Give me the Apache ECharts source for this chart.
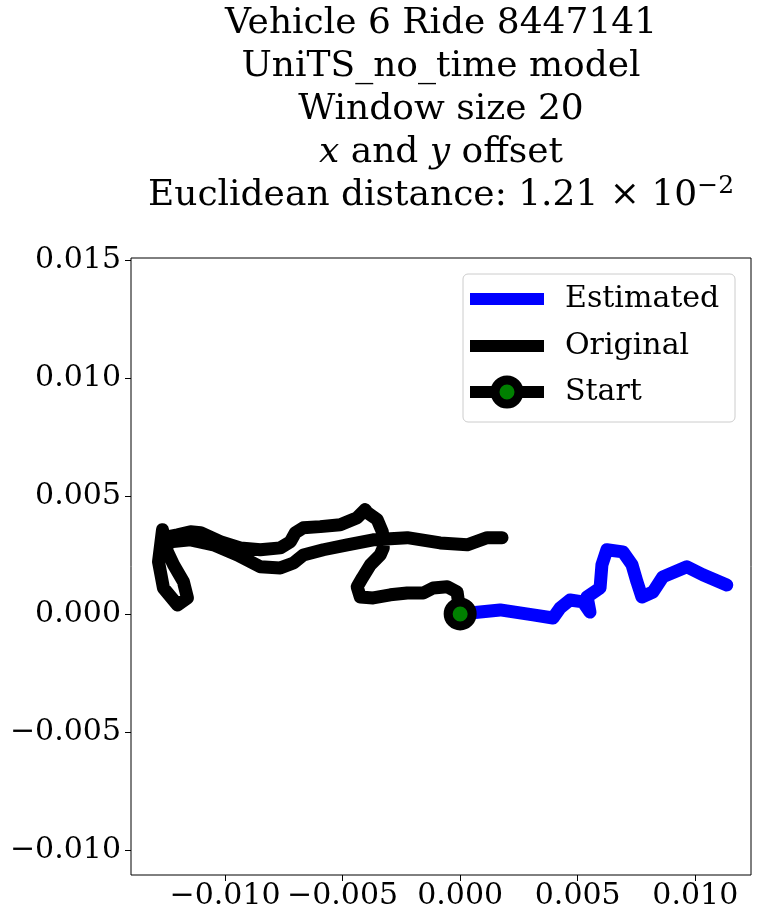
<!DOCTYPE html>
<html>
<head>
<meta charset="utf-8">
<script src="https://cdn.jsdelivr.net/npm/echarts@6/dist/echarts.min.js"></script>
<style>html,body{margin:0;padding:0;background:#fff}#chart{width:759px;height:921px}</style>
</head>
<body>
<div id="chart"></div>
<script>
// traced trajectories (x offset, y offset)
var originalX = [0, -0.00013, -0.00055, -0.00115, -0.00157, -0.00225, -0.00297, -0.0037, -0.00425, -0.00438, -0.00416, -0.00382, -0.0034, -0.00327, -0.00331, -0.00353, -0.00395, -0.00404, -0.00438, -0.0051, -0.00595, -0.00667, -0.00701, -0.00722, -0.00765, -0.0085, -0.00935, -0.0102, -0.01104, -0.01147, -0.01202, -0.01262, -0.01266, -0.01283, -0.01262, -0.01202, -0.0116, -0.01177, -0.01219, -0.01253, -0.01232, -0.01147, -0.01049, -0.00947, -0.0085, -0.00765, -0.00709, -0.00667, -0.00582, -0.0048, -0.0037, -0.00225, -0.00085, 0.0003, 0.00115, 0.00178];
var originalY = [0, 0.00093, 0.00115, 0.0011, 0.00089, 0.00089, 0.00081, 0.00068, 0.00072, 0.00115, 0.00153, 0.00208, 0.0025, 0.0028, 0.00348, 0.004, 0.00429, 0.00442, 0.00408, 0.00378, 0.0037, 0.00365, 0.00344, 0.00306, 0.0028, 0.00272, 0.0028, 0.00306, 0.00344, 0.00348, 0.00335, 0.00323, 0.00357, 0.00221, 0.0011, 0.00038, 0.00068, 0.00136, 0.00208, 0.0028, 0.00306, 0.00314, 0.00293, 0.0025, 0.002, 0.00195, 0.00216, 0.0025, 0.00272, 0.00293, 0.00314, 0.00323, 0.00301, 0.00293, 0.00323, 0.00323];
var estimatedX = [0, 0.0017, 0.0031, 0.00395, 0.00425, 0.00467, 0.00522, 0.00552, 0.0054, 0.00595, 0.00603, 0.00624, 0.00692, 0.00731, 0.00752, 0.00773, 0.0082, 0.00862, 0.00964, 0.01032, 0.01134];
var estimatedY = [0, 0.00017, -0.00004, -0.00017, 0.00025, 0.00059, 0.00051, 0.00008, 0.00072, 0.0011, 0.00208, 0.00272, 0.00263, 0.00208, 0.00136, 0.00072, 0.00093, 0.00157, 0.002, 0.00166, 0.00123];
var startPoint = [0, 0];
var xTicks = [-0.010, -0.005, 0.000, 0.005, 0.010];
var yTicks = [-0.010, -0.005, 0.000, 0.005, 0.010, 0.015];

function pairs(xs, ys) {
    return xs.map(function (v, i) { return [v, ys[i]]; });
}
function fmt(v) {
    return v.toFixed(3).replace('-', '\u2212');
}

var myChart = echarts.init(document.getElementById('chart'));
var tickFont = { fontFamily: 'DejaVu Serif', fontSize: 30, color: '#000' };

var option = {
    animation: false,
    grid: {
        left: 131, right: 8, top: 258, bottom: 46,
        show: true, borderColor: '#000', borderWidth: 1
    },
    xAxis: {
        type: 'value', min: -0.014, max: 0.01237,
        axisLine: { show: false, onZero: false },
        splitLine: { show: false },
        axisTick: { show: true, customValues: xTicks, length: 6, lineStyle: { color: '#000' } },
        axisLabel: Object.assign({ customValues: xTicks, formatter: fmt, margin: 6 }, tickFont)
    },
    yAxis: {
        type: 'value', min: -0.01106, max: 0.01508,
        axisLine: { show: false, onZero: false },
        splitLine: { show: false },
        axisTick: { show: true, customValues: yTicks, length: 6, lineStyle: { color: '#000' } },
        axisLabel: Object.assign({ customValues: yTicks, formatter: fmt, margin: 10 }, tickFont)
    },
    series: [
        {
            name: 'Estimated', type: 'line', data: pairs(estimatedX, estimatedY),
            showSymbol: false, lineStyle: { color: '#0000ff', width: 13, cap: 'round', join: 'round' }
        },
        {
            name: 'Original', type: 'line', data: pairs(originalX, originalY),
            showSymbol: false, lineStyle: { color: '#000', width: 13, cap: 'round', join: 'round' }
        },
        {
            name: 'Start', type: 'scatter', data: [startPoint], symbolSize: 24, z: 5,
            itemStyle: { color: '#008000', borderColor: '#000', borderWidth: 9, opacity: 1 }
        }
    ],
    graphic: [
        {
            type: 'text', x: 441, y: 2, z: 10,
            style: {
                text: 'Vehicle 6 Ride 8447141\nUniTS_no_time model\nWindow size 20\n{i|x} and {i|y} offset\nEuclidean distance: 1.21 \u00d7 10{s|\u22122}',
                font: '36px DejaVu Serif', fill: '#000', align: 'center', lineHeight: 43,
                rich: {
                    i: { fontStyle: 'italic', fontFamily: 'DejaVu Serif', fontSize: 36, lineHeight: 43 },
                    s: { fontFamily: 'DejaVu Serif', fontSize: 25, verticalAlign: 'top', lineHeight: 30 }
                }
            }
        },
        {
            type: 'rect', shape: { x: 463, y: 274, width: 272, height: 148, r: 5 },
            style: { fill: 'rgba(255,255,255,0.8)', stroke: '#ccc', lineWidth: 1 }, z: 20
        },
        { type: 'line', shape: { x1: 470, y1: 299, x2: 544, y2: 299 }, style: { stroke: '#0000ff', lineWidth: 12 }, z: 21 },
        { type: 'line', shape: { x1: 470, y1: 346, x2: 544, y2: 346 }, style: { stroke: '#000', lineWidth: 12 }, z: 21 },
        { type: 'line', shape: { x1: 470, y1: 392, x2: 544, y2: 392 }, style: { stroke: '#000', lineWidth: 12 }, z: 21 },
        { type: 'circle', shape: { cx: 507, cy: 392, r: 12 }, style: { fill: '#008000', stroke: '#000', lineWidth: 9 }, z: 22 },
        { type: 'text', x: 565, y: 299, style: { text: 'Estimated', font: '30px DejaVu Serif', fill: '#000', verticalAlign: 'middle' }, z: 22 },
        { type: 'text', x: 565, y: 346, style: { text: 'Original', font: '30px DejaVu Serif', fill: '#000', verticalAlign: 'middle' }, z: 22 },
        { type: 'text', x: 565, y: 392, style: { text: 'Start', font: '30px DejaVu Serif', fill: '#000', verticalAlign: 'middle' }, z: 22 }
    ]
};

myChart.setOption(option);
</script>
</body>
</html>
